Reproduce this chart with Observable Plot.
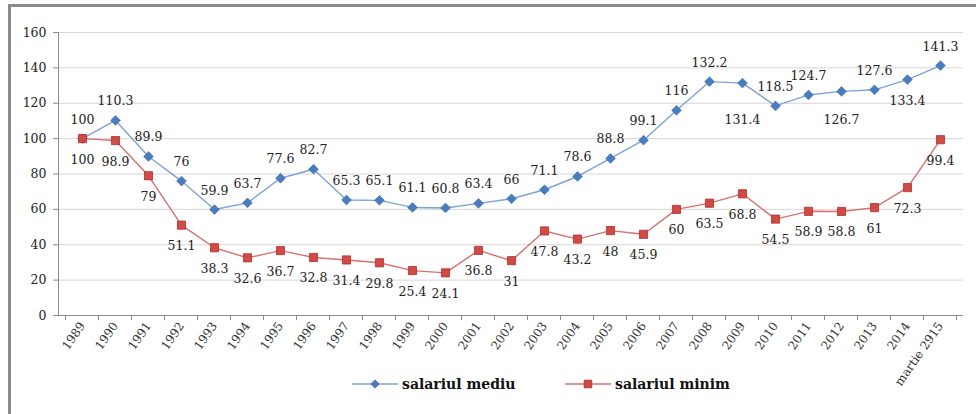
<!DOCTYPE html>
<html>
<head>
<meta charset="utf-8">
<script src="https://cdn.jsdelivr.net/npm/d3@7"></script>
<script src="https://cdn.jsdelivr.net/npm/@observablehq/plot@0.6"></script>
<style>
  html, body { margin: 0; padding: 0; background: #fff; }
  #wrap { position: relative; width: 976px; height: 414px; overflow: hidden; background: #fff; }
  #frame { position: absolute; left: 8px; top: 4px; width: 980px; height: 420px;
           border-top: 3px solid #8a8a8a; border-left: 3px solid #8a8a8a; box-sizing: border-box; }
  #chart { position: absolute; left: 0; top: 0; }
  #legend { position: absolute; top: 372px; left: 0; width: 976px; height: 24px;
            font-family: "DejaVu Serif", serif; font-weight: bold; font-size: 14px; color: #111; }
  .item { position: absolute; top: 0; display: flex; align-items: center; height: 24px; }
  .item svg { margin-right: 4px; }
</style>
</head>
<body>
<div id="wrap">
  <div id="frame"></div>
  <div id="chart"></div>
  <div id="legend"></div>
</div>
<script>
// ---- data ----
const years = ["1989","1990","1991","1992","1993","1994","1995","1996","1997","1998","1999","2000",
  "2001","2002","2003","2004","2005","2006","2007","2008","2009","2010","2011","2012","2013","2014","martie 2915"];
const salariulMediu = [100, 110.3, 89.9, 76, 59.9, 63.7, 77.6, 82.7, 65.3, 65.1, 61.1, 60.8,
  63.4, 66, 71.1, 78.6, 88.8, 99.1, 116, 132.2, 131.4, 118.5, 124.7, 126.7, 127.6, 133.4, 141.3];
const salariulMinim = [100, 98.9, 79, 51.1, 38.3, 32.6, 36.7, 32.8, 31.4, 29.8, 25.4, 24.1,
  36.8, 31, 47.8, 43.2, 48, 45.9, 60, 63.5, 68.8, 54.5, 58.9, 58.8, 61, 72.3, 99.4];
const yTicks = [0, 20, 40, 60, 80, 100, 120, 140, 160];
const seriesNames = ["salariul mediu", "salariul minim"];

// ---- styles (label offsets in px, separate from data) ----
const labelDyMediu = years.map(y => y === "2009" ? 37 : y === "2012" ? 29 : y === "2014" ? 21 : -19);
const labelDyMinim = years.map(() => 21);
const blueLine = "#7aa3d6", blueMark = "#4a7dbf";
const redLine = "#d7716e", redMark = "#d04a46";
const serif = "DejaVu Serif";

const mediu = years.map((c, i) => ({c, v: salariulMediu[i], dy: labelDyMediu[i]}));
const minim = years.map((c, i) => ({c, v: salariulMinim[i], dy: labelDyMinim[i]}));

function labelMarks(data, fill) {
  const groups = d3.groups(data, d => d.dy);
  return groups.map(([dy, rows]) => Plot.text(rows, {
    x: "c", y: "v", text: d => String(d.v), dy,
    fill, fontSize: 12.5, fontFamily: serif
  }));
}

// boundary tick marks for the category axis, computed from the x scale
function categoryTicks(index, scales, values, dimensions) {
  const x = scales.scales.x, y = scales.scales.y;
  const step = x.apply(years[1]) - x.apply(years[0]);
  const g = d3.create("svg:g").attr("stroke", "#8a8a8a").attr("stroke-width", 1);
  const y0 = y.apply(0);
  const xs = years.map(c => x.apply(c) - step / 2).concat([x.apply(years[years.length - 1]) + step / 2]);
  for (const px of xs) g.append("line").attr("x1", px).attr("x2", px).attr("y1", y0).attr("y2", y0 + 5);
  return g.node();
}

const chart = Plot.plot({
  width: 976,
  height: 414,
  marginLeft: 58,
  marginRight: 13,
  marginTop: 32,
  marginBottom: 99,
  style: {background: "transparent", fontFamily: serif},
  x: {type: "point", domain: years, padding: 0.5},
  y: {domain: [0, 160]},
  marks: [
    Plot.gridY(yTicks, {stroke: "#d6d6d6", strokeOpacity: 1, strokeWidth: 1}),
    Plot.axisY(yTicks, {tickSize: 5, tickPadding: 7, fontSize: 12.5, stroke: "#8a8a8a", fill: "#222", label: null, fontFamily: serif}),
    Plot.axisX(years, {tickSize: 0, tickPadding: 8, tickRotate: -55, fontSize: 12, fill: "#333", label: null, fontFamily: serif}),
    Plot.ruleY([0], {stroke: "#8a8a8a", strokeWidth: 1}),
    Plot.frame({anchor: "left", stroke: "#8a8a8a", strokeWidth: 1}),
    categoryTicks,
    Plot.line(mediu, {x: "c", y: "v", stroke: blueLine, strokeWidth: 1.4}),
    Plot.line(minim, {x: "c", y: "v", stroke: redLine, strokeWidth: 1.4}),
    Plot.dot(mediu, {x: "c", y: "v", symbol: "diamond2", r: 4.4, fill: blueMark, stroke: "#3a6aa8", strokeWidth: 0.6}),
    Plot.dot(minim, {x: "c", y: "v", symbol: "square", r: 4.6, fill: redMark, stroke: "#a8302d", strokeWidth: 0.8}),
    ...labelMarks(mediu, "#222"),
    ...labelMarks(minim, "#222")
  ]
});
document.getElementById("chart").appendChild(chart);

// ---- legend ----
const legend = d3.select("#legend");
const items = [
  {name: seriesNames[0], line: blueLine, mark: blueMark, sym: d3.symbolDiamond2, left: 352},
  {name: seriesNames[1], line: redLine, mark: redMark, sym: d3.symbolSquare, left: 565}
];
for (const it of items) {
  const div = legend.append("div").attr("class", "item").style("left", it.left + "px");
  const svg = div.append("svg").attr("width", 46).attr("height", 24);
  svg.append("line").attr("x1", 0).attr("x2", 46).attr("y1", 12).attr("y2", 12).attr("stroke", it.line).attr("stroke-width", 1.4);
  svg.append("path").attr("transform", "translate(23,12)").attr("d", d3.symbol(it.sym, it.sym === d3.symbolSquare ? 60 : 45)())
    .attr("fill", it.mark).attr("stroke", it.sym === d3.symbolSquare ? "#a8302d" : "#3a6aa8").attr("stroke-width", 0.7);
  div.append("span").text(it.name);
}
</script>
</body>
</html>
